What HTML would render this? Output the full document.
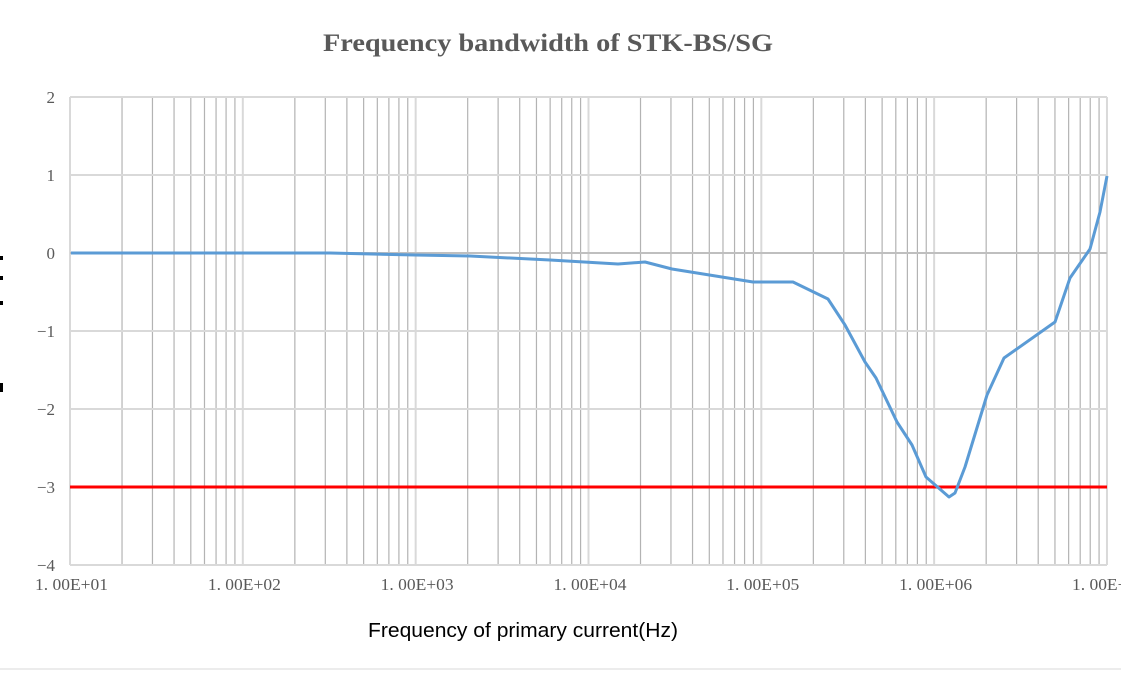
<!DOCTYPE html>
<html><head><meta charset="utf-8"><style>
body{margin:0;background:#fff;width:1121px;height:673px;overflow:hidden}
svg{display:block}
</style></head><body>
<svg id="s" width="1121" height="673" xmlns="http://www.w3.org/2000/svg" font-family="Liberation Serif, serif">
<text x="323" y="51" textLength="450" lengthAdjust="spacingAndGlyphs" font-size="25" font-weight="bold" fill="#595959">Frequency bandwidth of STK-BS/SG</text>
<g id="grid"></g>
<line x1="70" y1="487" x2="1107" y2="487" stroke="#ff0000" stroke-width="3"/>
<polyline fill="none" stroke="#5b9bd5" stroke-width="3" stroke-linejoin="round" points="71,253 330,253 415,255 470,256 550,260 618,264 645,262 672,269 753,282 793,282 828,299 845,325 865,362 876,378 897,422 912,445 926,477 949,497 955,493 965,467 987,395 1004,358 1055,322 1070,278 1090,249 1100,212 1107,176"/>
<g font-size="17" fill="#595959" text-anchor="end" id="yl"></g>
<g font-size="17" fill="#595959" id="xl"></g>
<text x="368" y="637" textLength="310" lengthAdjust="spacingAndGlyphs" font-family="Liberation Sans, sans-serif" font-size="20" fill="#000">Frequency of primary current(Hz)</text>
<rect x="0" y="256" width="3" height="4" fill="#000"/>
<rect x="0" y="276" width="3" height="4" fill="#000"/>
<rect x="0" y="301" width="3" height="4" fill="#000"/>
<rect x="0" y="383" width="3" height="9" fill="#000"/>
<line x1="0" y1="669" x2="1121" y2="669" stroke="#d9d9d9" stroke-width="1"/>
</svg>
<script>
var ns="http://www.w3.org/2000/svg",g=document.getElementById('grid');
function L(x1,y1,x2,y2,c,w){var l=document.createElementNS(ns,'line');l.setAttribute('x1',x1);l.setAttribute('y1',y1);l.setAttribute('x2',x2);l.setAttribute('y2',y2);l.setAttribute('stroke',c);l.setAttribute('stroke-width',w);g.appendChild(l);}
var X0=70,D=172.83,Y0=97,U=78;
for(var d=0;d<6;d++){for(var k=2;k<10;k++){var x=X0+D*(d+Math.log10(k));L(x,97,x,565,'#b3b3b3',1.2);}}
for(var d=0;d<=6;d++){var x=X0+D*d;L(x,97,x,565,'#d9d9d9',2);}
for(var i=0;i<=6;i++){var y=Y0+U*i;L(70,y,1107,y,i==2?'#bfbfbf':'#d9d9d9',2);}
var yl=document.getElementById('yl');
for(var i=0;i<=6;i++){var t=document.createElementNS(ns,'text');t.setAttribute('x',55);t.setAttribute('y',Y0+U*i+6);t.textContent=(2-i<0?'\u2212'+(i-2):(2-i));yl.appendChild(t);}
var xl=document.getElementById('xl');
for(var d=0;d<=6;d++){var t=document.createElementNS(ns,'text');t.setAttribute('x',X0+D*d-35);t.setAttribute('y',590);t.setAttribute('textLength',73);t.setAttribute('lengthAdjust','spacingAndGlyphs');t.textContent='1. 00E+0'+(d+1);xl.appendChild(t);}
</script>
</body></html>
